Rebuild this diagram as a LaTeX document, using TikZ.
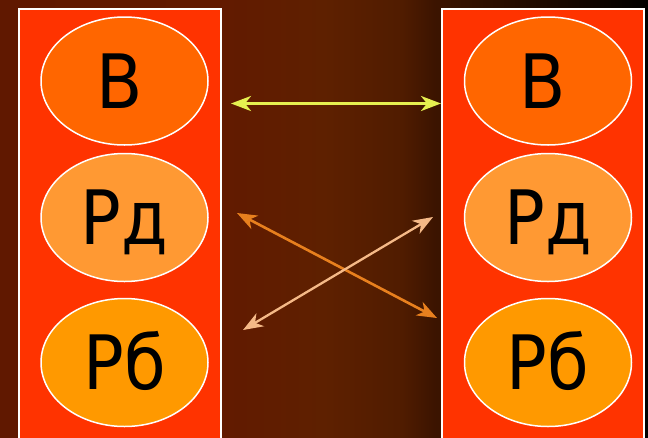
\documentclass[tikz,border=0pt]{standalone}
\usepackage{fontspec}
\setmainfont{DejaVu Sans}
\usetikzlibrary{shapes.geometric,arrows.meta}
\definecolor{bgA}{RGB}{96,24,0}
\definecolor{bgB}{RGB}{98,26,0}
\definecolor{bgC}{RGB}{94,32,0}
\definecolor{bgD}{RGB}{80,28,0}
\definecolor{bgE}{RGB}{60,20,0}
\definecolor{boxred}{RGB}{255,51,0}
\definecolor{ovB}{RGB}{255,102,0}
\definecolor{ovRd}{RGB}{255,153,51}
\definecolor{ovRb}{RGB}{255,153,0}
\definecolor{arrY}{RGB}{230,240,80}
\definecolor{arrO}{RGB}{232,128,30}
\definecolor{arrL}{RGB}{245,185,135}
\pgfdeclarehorizontalshading{bgshade}{100bp}{color(0bp)=(bgA); color(25bp)=(bgA); color(42bp)=(bgB); color(50bp)=(bgC); color(56bp)=(bgD); color(58.5bp)=(bgE); color(75bp)=(black); color(100bp)=(black)}
\tikzset{
  column/.style={draw=white, line width=1.5pt, fill=boxred, rectangle, inner sep=0pt, minimum width=202pt, minimum height=440pt, anchor=north west},
  oval/.style={ellipse, draw=white, line width=1.5pt, inner sep=0pt, minimum width=167pt, minimum height=128pt},
  lbl/.style={anchor=base, inner sep=0pt, font=\fontsize{75}{75}\selectfont, text=black},
  link/.style={line width=2.6pt, {Stealth[length=20pt,width=15pt,inset=6pt]}-{Stealth[length=20pt,width=15pt,inset=6pt]}},
}
\newcommand{\sq}[1]{\scalebox{0.9}[1]{#1}}
\begin{document}
\begin{tikzpicture}[x=1pt,y=-1pt]
\useasboundingbox (0,0) rectangle (648,437);
\clip (0,0) rectangle (648,437);
\shade[shading=bgshade] (0,0) rectangle (648,437);
\node[column] (L) at (18,8) {};
\node[column] (R) at (441,8) {};
\node[oval, fill=ovB]  (LB)  at (124.5,81) {};
\node[oval, fill=ovRd] (LRd) at (124.5,217.5) {};
\node[oval, fill=ovRb] (LRb) at (124.5,362.5) {};
\node[oval, fill=ovB]  (RB)  at (548,81) {};
\node[oval, fill=ovRd] (RRd) at (548,217.5) {};
\node[oval, fill=ovRb] (RRb) at (548,362.5) {};
\node[lbl] (tLB)  at ([xshift=-5pt,yshift=-27.5pt]LB.center)  {\sq{В}};
\node[lbl] (tLRd) at ([yshift=-27pt]LRd.center) {\sq{Рд}};
\node[lbl] (tLRb) at ([yshift=-27pt]LRb.center) {\sq{Рб}};
\node[lbl] (tRB)  at ([xshift=-5pt,yshift=-27.5pt]RB.center)  {\sq{В}};
\node[lbl] (tRRd) at ([yshift=-27pt]RRd.center) {\sq{Рд}};
\node[lbl] (tRRb) at ([yshift=-27pt]RRb.center) {\sq{Рб}};
\coordinate (y1) at (231,103.5);
\coordinate (y2) at (441,103.5);
\coordinate (o1) at (237,213);
\coordinate (o2) at (437,318);
\coordinate (l1) at (243,330);
\coordinate (l2) at (433,217);
\draw[link, draw=arrY, line width=3pt] (y1) -- (y2);
\draw[link, draw=arrO] (o1) -- (o2);
\draw[link, draw=arrL, line width=2.3pt] (l1) -- (l2);
\end{tikzpicture}
\end{document}
